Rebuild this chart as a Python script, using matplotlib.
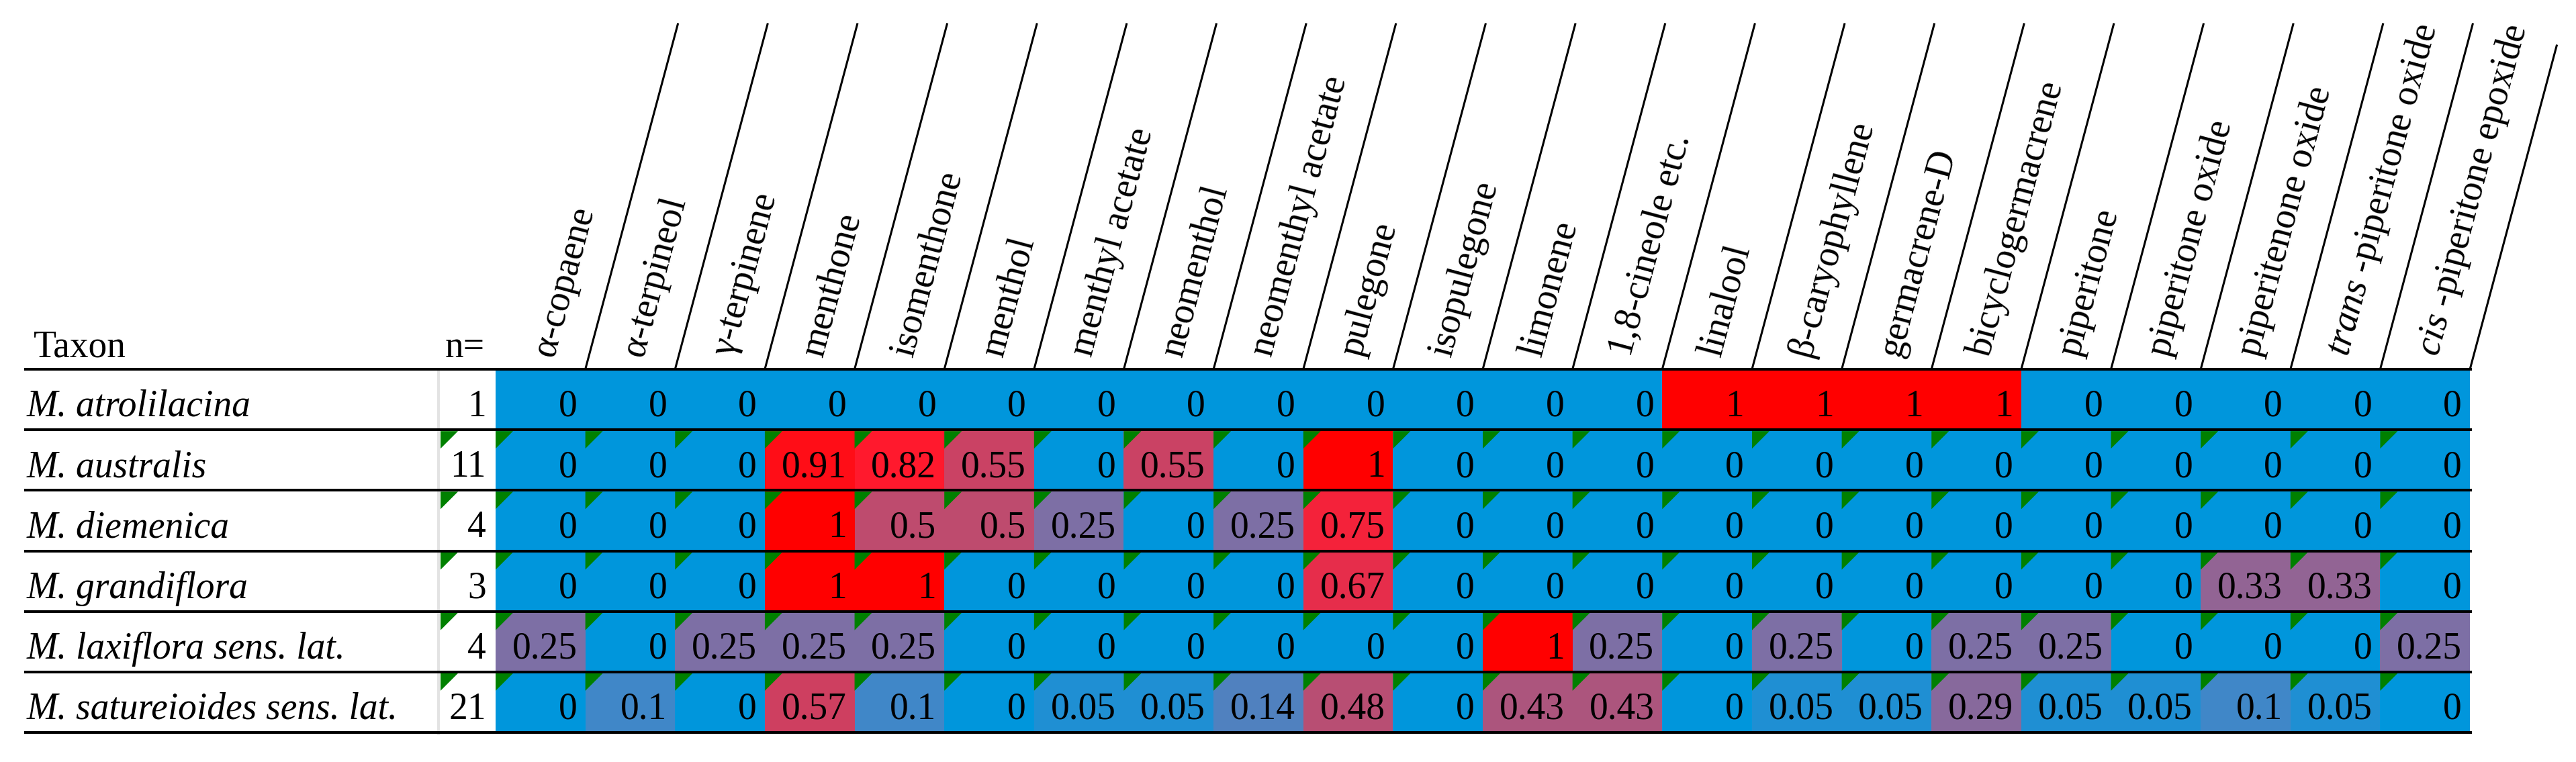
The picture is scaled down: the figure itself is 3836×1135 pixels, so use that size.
import numpy as np
import matplotlib
matplotlib.use("Agg")
import matplotlib.pyplot as plt
from matplotlib.colors import LinearSegmentedColormap
from matplotlib.patches import Polygon

plt.rcParams["font.family"] = ["Liberation Serif", "DejaVu Serif"]
plt.rcParams["mathtext.fontset"] = "custom"
plt.rcParams["mathtext.it"] = "Liberation Serif:italic"
plt.rcParams["mathtext.rm"] = "Liberation Serif"

# --- data ---
compounds = [
    "α-copaene", "α-terpineol", "γ-terpinene", "menthone", "isomenthone",
    "menthol", "menthyl acetate", "neomenthol", "neomenthyl acetate",
    "pulegone", "isopulegone", "limonene", "1,8-cineole etc.", "linalool",
    "β-caryophyllene", "germacrene-D", "bicyclogermacrene", "piperitone",
    "piperitone oxide", "piperitenone oxide",
    r"$\mathit{trans}$ -piperitone oxide", r"$\mathit{cis}$ -piperitone epoxide",
]
taxa = [
    "M. atrolilacina", "M. australis", "M. diemenica", "M. grandiflora",
    "M. laxiflora sens. lat.", "M. satureioides sens. lat.",
]
n_samples = [1, 11, 4, 3, 4, 21]

atrolilacina = [0, 0, 0, 0, 0, 0, 0, 0, 0, 0, 0, 0, 0, 1, 1, 1, 1, 0, 0, 0, 0, 0]
australis = [0, 0, 0, 0.91, 0.82, 0.55, 0, 0.55, 0, 1, 0, 0, 0, 0, 0, 0, 0, 0, 0, 0, 0, 0]
diemenica = [0, 0, 0, 1, 0.5, 0.5, 0.25, 0, 0.25, 0.75, 0, 0, 0, 0, 0, 0, 0, 0, 0, 0, 0, 0]
grandiflora = [0, 0, 0, 1, 1, 0, 0, 0, 0, 0.67, 0, 0, 0, 0, 0, 0, 0, 0, 0, 0.33, 0.33, 0]
laxiflora = [0.25, 0, 0.25, 0.25, 0.25, 0, 0, 0, 0, 0, 0, 1, 0.25, 0, 0.25, 0, 0.25, 0.25, 0, 0, 0, 0.25]
satureioides = [0, 0.1, 0, 0.57, 0.1, 0, 0.05, 0.05, 0.14, 0.48, 0, 0.43, 0.43, 0, 0.05, 0.05, 0.29, 0.05, 0.05, 0.1, 0.05, 0]

values = np.array([atrolilacina, australis, diemenica, grandiflora, laxiflora, satureioides])

# colour scale: blue (0) -> purple -> red (1)
cmap = LinearSegmentedColormap.from_list("scale", [
    (0.0, "#0096DC"), (0.1, "#4187C8"), (0.25, "#7D6FA5"), (0.5, "#BE4B6E"),
    (0.67, "#E62D4B"), (0.82, "#FF192D"), (1.0, "#FF0000"),
])

# --- layout (pixel units) ---
W, H = 3837, 1135
X0, CW = 738, 133.64      # first data column, column width
Y0, RH = 550, 90.17       # header line, row height
NX = 653                  # n= column left edge
LX0, LX1 = 36, 3681       # extent of horizontal rules
TOP = 36                  # top of slanted header lines
SLANT = np.tan(np.radians(15))
FS = 40

fig = plt.figure(figsize=(W / 100, H / 100), dpi=100)
ax = fig.add_axes([0, 0, 1, 1])
ax.set_xlim(0, W)
ax.set_ylim(H, 0)
ax.axis("off")

nrow, ncol = values.shape
xedges = X0 + CW * np.arange(ncol + 1)
yedges = Y0 + RH * np.arange(nrow + 1)

ax.pcolormesh(xedges, yedges, values, cmap=cmap, vmin=0, vmax=1, zorder=1)

# light grey divider left of n=
ax.plot([NX, NX], [Y0 + 2, yedges[-1] + 2], color="#E3E3E3", lw=2.9, zorder=2)

# green corner markers (rows 2..6)
tri = 26
for i in range(1, nrow):
    yt = yedges[i] + 2
    for xl in [NX + 3] + list(xedges[:-1]):
        ax.add_patch(Polygon([(xl, yt), (xl + tri, yt), (xl, yt + tri)],
                             closed=True, color="#008000", lw=0, zorder=3))

# horizontal rules
for y in yedges:
    ax.plot([LX0, LX1], [y, y], color="black", lw=2.9, solid_capstyle="butt", zorder=4)

# slanted header lines
for k in range(1, ncol + 1):
    xb = xedges[k]
    ytop = TOP if k < ncol else 68
    ax.plot([xb, xb + (Y0 - ytop) * SLANT], [Y0, ytop], color="black", lw=2.2, zorder=4)

# header texts
ax.text(50, 532, "Taxon", fontsize=FS, ha="left", va="baseline")
ax.text(663, 532, "n=", fontsize=FS, ha="left", va="baseline")
ya = 529
for j, name in enumerate(compounds):
    xc = xedges[j] + CW / 2 + (Y0 - ya) * SLANT
    ax.text(xc, ya, name, fontsize=FS, rotation=75, rotation_mode="anchor",
            ha="left", va="center")

# rows
for i in range(nrow):
    yb = yedges[i] + 70
    ax.text(40, yb, taxa[i], fontsize=FS, style="italic", ha="left", va="baseline")
    ax.text(X0 - 14, yb, str(n_samples[i]), fontsize=FS, ha="right", va="baseline")
    for j in range(ncol):
        ax.text(xedges[j + 1] - 12, yb, f"{values[i, j]:g}", fontsize=FS,
                ha="right", va="baseline", zorder=5)

fig.savefig("out.png", dpi=100)
